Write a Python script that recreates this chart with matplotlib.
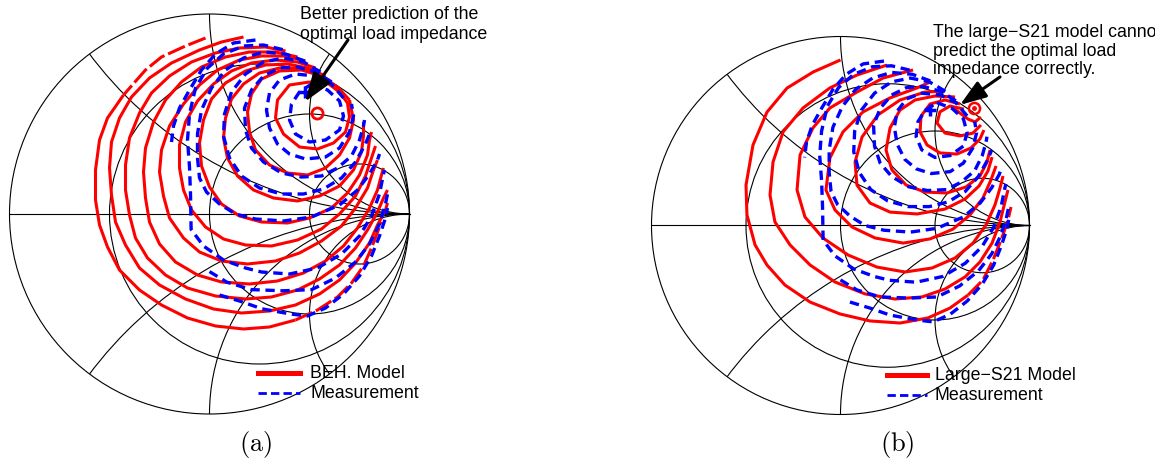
import matplotlib
matplotlib.use("Agg")
import matplotlib.pyplot as plt
from matplotlib.patches import Circle
from matplotlib.lines import Line2D

plt.rcParams['font.family'] = ['Liberation Sans', 'DejaVu Sans']
plt.rcParams['mathtext.fontset'] = 'cm'

# ---------------------------------------------------------------------------
# Load-pull output-power contours, given as reflection coefficient (Re, Im)
# ---------------------------------------------------------------------------

# BEH model contours, inner to outer
beh_model = [
    [(0.50, 0.66), (0.59, 0.655), (0.65, 0.61), (0.69, 0.555), (0.70, 0.485), (0.68, 0.41), (0.62, 0.355),
     (0.54, 0.325), (0.45, 0.335), (0.37, 0.40), (0.33, 0.48), (0.34, 0.57), (0.40, 0.645), (0.50, 0.66)],
    [(0.70, 0.57), (0.64, 0.635), (0.56, 0.69), (0.46, 0.72), (0.35, 0.715), (0.26, 0.675), (0.21, 0.60),
     (0.19, 0.51), (0.20, 0.41), (0.23, 0.32), (0.30, 0.245), (0.39, 0.205), (0.49, 0.195), (0.58, 0.23),
     (0.65, 0.295), (0.70, 0.38), (0.72, 0.47), (0.70, 0.57)],
    [(0.61, 0.66), (0.54, 0.705), (0.45, 0.73), (0.35, 0.73), (0.25, 0.705), (0.17, 0.65), (0.11, 0.575),
     (0.08, 0.48), (0.07, 0.38), (0.09, 0.28), (0.14, 0.19), (0.22, 0.12), (0.32, 0.08), (0.44, 0.065),
     (0.55, 0.09), (0.65, 0.14), (0.72, 0.22), (0.76, 0.31), (0.77, 0.39), (0.77, 0.46)],
    [(0.58, 0.69), (0.49, 0.73), (0.39, 0.75), (0.28, 0.745), (0.18, 0.715), (0.08, 0.655), (0.01, 0.575),
     (-0.03, 0.47), (-0.05, 0.355), (-0.04, 0.24), (0.0, 0.135), (0.06, 0.05), (0.15, -0.01), (0.26, -0.04),
     (0.39, -0.045), (0.50, -0.02), (0.61, 0.03), (0.69, 0.105), (0.75, 0.195), (0.79, 0.295), (0.80, 0.37),
     (0.81, 0.41)],
    [(0.53, 0.73), (0.44, 0.76), (0.33, 0.77), (0.21, 0.755), (0.11, 0.715), (0.02, 0.65), (-0.06, 0.565),
     (-0.12, 0.46), (-0.15, 0.345), (-0.15, 0.23), (-0.13, 0.12), (-0.09, 0.02), (-0.02, -0.065),
     (0.07, -0.125), (0.18, -0.155), (0.31, -0.16), (0.44, -0.13), (0.56, -0.075), (0.65, 0.0), (0.73, 0.09),
     (0.78, 0.19), (0.81, 0.28), (0.83, 0.34)],
    [(0.48, 0.765), (0.38, 0.79), (0.26, 0.79), (0.15, 0.77), (0.04, 0.72), (-0.05, 0.645), (-0.13, 0.55),
     (-0.20, 0.44), (-0.24, 0.32), (-0.25, 0.21), (-0.23, 0.09), (-0.20, -0.02), (-0.13, -0.12), (-0.05, -0.19),
     (0.06, -0.235), (0.19, -0.25), (0.33, -0.235), (0.45, -0.195), (0.56, -0.135), (0.66, -0.06), (0.73, 0.03),
     (0.79, 0.13), (0.82, 0.22), (0.84, 0.27)],
    [(0.44, 0.785), (0.33, 0.81), (0.20, 0.81), (0.08, 0.785), (-0.04, 0.735), (-0.14, 0.66), (-0.22, 0.57),
     (-0.28, 0.46), (-0.32, 0.33), (-0.33, 0.21), (-0.32, 0.08), (-0.30, -0.04), (-0.25, -0.15), (-0.17, -0.24),
     (-0.06, -0.305), (0.06, -0.34), (0.20, -0.35), (0.34, -0.335), (0.47, -0.295), (0.58, -0.235),
     (0.67, -0.16), (0.74, -0.07), (0.80, 0.03), (0.84, 0.12), (0.86, 0.195), (0.87, 0.23)],
    [(0.38, 0.815), (0.28, 0.835), (0.15, 0.83), (0.03, 0.805), (-0.09, 0.76), (-0.20, 0.69), (-0.29, 0.605),
     (-0.35, 0.505), (-0.40, 0.38), (-0.42, 0.245), (-0.42, 0.12), (-0.40, -0.005), (-0.37, -0.12),
     (-0.31, -0.22), (-0.22, -0.305), (-0.11, -0.37), (0.03, -0.41), (0.18, -0.425), (0.31, -0.415),
     (0.44, -0.38), (0.55, -0.325), (0.65, -0.255), (0.73, -0.17), (0.79, -0.08), (0.84, 0.01), (0.87, 0.08),
     (0.89, 0.12)],
    [(0.17, 0.885), (0.06, 0.86), (-0.05, 0.82), (-0.19, 0.755), (-0.30, 0.68), (-0.39, 0.585), (-0.45, 0.48),
     (-0.49, 0.36), (-0.50, 0.23), (-0.49, 0.095), (-0.47, -0.04), (-0.42, -0.155), (-0.35, -0.27),
     (-0.25, -0.355), (-0.12, -0.425), (0.02, -0.475), (0.16, -0.495), (0.30, -0.485), (0.43, -0.455),
     (0.55, -0.40), (0.65, -0.33), (0.73, -0.245), (0.80, -0.145), (0.84, -0.055), (0.88, 0.02), (0.89, 0.055)],
    [(-0.02, 0.88), (-0.12, 0.84), (-0.24, 0.785), (-0.32, 0.72), (-0.43, 0.595), (-0.51, 0.48), (-0.55, 0.37),
     (-0.57, 0.22), (-0.57, 0.07), (-0.55, -0.055), (-0.51, -0.165), (-0.45, -0.28), (-0.35, -0.38),
     (-0.24, -0.455), (-0.11, -0.52), (0.03, -0.56), (0.17, -0.575), (0.30, -0.565), (0.43, -0.53),
     (0.54, -0.48), (0.64, -0.415), (0.71, -0.345), (0.77, -0.26), (0.81, -0.17), (0.84, -0.09), (0.86, -0.04)],
]

# Large-S21 model contours, inner to outer
s21_model = [
    [(0.59, 0.627), (0.632, 0.595), (0.675, 0.563), (0.712, 0.548), (0.743, 0.574)],
    [(0.653, 0.616), (0.579, 0.632), (0.526, 0.601), (0.511, 0.542), (0.553, 0.489), (0.632, 0.474),
     (0.701, 0.489), (0.743, 0.532)],
    [(0.632, 0.643), (0.553, 0.664), (0.474, 0.643), (0.426, 0.579), (0.421, 0.495), (0.458, 0.426),
     (0.526, 0.384), (0.616, 0.378), (0.69, 0.41), (0.738, 0.458), (0.759, 0.505)],
    [(0.606, 0.680), (0.50, 0.685), (0.394, 0.664), (0.315, 0.611), (0.262, 0.516), (0.241, 0.399),
     (0.272, 0.294), (0.347, 0.214), (0.447, 0.177), (0.563, 0.172), (0.664, 0.204), (0.738, 0.262),
     (0.775, 0.336), (0.791, 0.399)],
    [(0.553, 0.712), (0.447, 0.706), (0.315, 0.664), (0.198, 0.585), (0.114, 0.468), (0.077, 0.336),
     (0.087, 0.214), (0.156, 0.119), (0.262, 0.071), (0.405, 0.061), (0.553, 0.087), (0.659, 0.14),
     (0.733, 0.209), (0.78, 0.288), (0.802, 0.362)],
    [(0.474, 0.759), (0.405, 0.728), (0.262, 0.675), (0.119, 0.601), (0.013, 0.495), (-0.056, 0.357),
     (-0.077, 0.188), (-0.029, 0.082), (0.061, -0.008), (0.183, -0.066), (0.331, -0.093), (0.474, -0.071),
     (0.595, -0.019), (0.685, 0.056), (0.754, 0.146), (0.796, 0.241), (0.823, 0.315)],
    [(0.384, 0.823), (0.225, 0.78), (0.087, 0.706), (-0.056, 0.622), (-0.146, 0.516), (-0.214, 0.373),
     (-0.23, 0.188), (-0.188, 0.045), (-0.093, -0.066), (0.04, -0.156), (0.193, -0.22), (0.341, -0.246),
     (0.484, -0.225), (0.606, -0.172), (0.701, -0.093), (0.77, 0.003), (0.817, 0.108), (0.844, 0.198),
     (0.86, 0.262)],
    [(0.246, 0.849), (0.087, 0.796), (-0.056, 0.728), (-0.198, 0.622), (-0.304, 0.495), (-0.357, 0.336),
     (-0.373, 0.161), (-0.347, 0.019), (-0.267, -0.103), (-0.161, -0.209), (-0.029, -0.299), (0.13, -0.362),
     (0.288, -0.389), (0.431, -0.378), (0.553, -0.336), (0.659, -0.272), (0.738, -0.193), (0.802, -0.093),
     (0.844, 0.019), (0.87, 0.124), (0.886, 0.188)],
    [(0.0, 0.876), (-0.145, 0.812), (-0.283, 0.727), (-0.389, 0.60), (-0.463, 0.426), (-0.50, 0.214),
     (-0.495, 0.056), (-0.452, -0.103), (-0.389, -0.209), (-0.294, -0.315), (-0.161, -0.405), (-0.003, -0.468),
     (0.156, -0.505), (0.315, -0.516), (0.463, -0.489), (0.579, -0.437), (0.675, -0.368), (0.754, -0.288),
     (0.807, -0.183), (0.854, -0.066), (0.886, 0.029), (0.902, 0.098)],
]

# Measured contours (same measurement shown in both charts); some are split
# where the measured region ends
measured = [
    [(0.51, 0.65), (0.59, 0.62), (0.65, 0.565), (0.67, 0.49), (0.65, 0.42), (0.58, 0.37), (0.50, 0.36),
     (0.43, 0.40), (0.40, 0.47), (0.41, 0.55), (0.45, 0.61), (0.51, 0.65)],
    [(0.67, 0.58), (0.61, 0.65), (0.53, 0.69), (0.43, 0.70), (0.35, 0.67), (0.30, 0.605), (0.285, 0.52),
     (0.30, 0.43), (0.34, 0.35), (0.40, 0.30), (0.48, 0.275), (0.58, 0.285), (0.65, 0.33), (0.70, 0.41),
     (0.72, 0.49), (0.71, 0.55)],
    [(0.61, 0.66), (0.53, 0.71), (0.44, 0.735), (0.35, 0.73), (0.27, 0.69), (0.21, 0.62), (0.175, 0.53),
     (0.18, 0.42), (0.21, 0.33), (0.27, 0.26), (0.36, 0.205), (0.46, 0.185), (0.56, 0.19), (0.64, 0.23),
     (0.71, 0.29), (0.75, 0.37), (0.77, 0.44), (0.775, 0.47)],
    [(0.555, 0.71), (0.47, 0.76), (0.37, 0.78), (0.27, 0.76), (0.18, 0.70), (0.11, 0.61), (0.075, 0.50),
     (0.07, 0.39), (0.10, 0.28), (0.16, 0.19), (0.25, 0.13), (0.36, 0.10), (0.47, 0.10), (0.57, 0.125),
     (0.66, 0.18), (0.73, 0.26), (0.78, 0.35), (0.80, 0.40)],
    [(0.475, 0.765), (0.38, 0.80), (0.27, 0.81), (0.17, 0.78), (0.08, 0.72), (0.01, 0.63), (-0.04, 0.52),
     (-0.06, 0.40), (-0.06, 0.28), (-0.05, 0.18), (-0.015, 0.11), (0.05, 0.05), (0.13, 0.0), (0.23, -0.025),
     (0.37, -0.035), (0.51, -0.015), (0.65, 0.045), (0.74, 0.12), (0.80, 0.20), (0.84, 0.27), (0.85, 0.30)],
    [(0.366, 0.822), (0.27, 0.845), (0.17, 0.84), (0.07, 0.80), (-0.01, 0.73), (-0.07, 0.63), (-0.10, 0.50),
     (-0.11, 0.37), (-0.10, 0.235), (-0.095, 0.10), (-0.092, -0.077), (-0.03, -0.16), (0.07, -0.23),
     (0.18, -0.27), (0.26, -0.29), (0.40, -0.30), (0.54, -0.27), (0.66, -0.20), (0.75, -0.11), (0.81, -0.01),
     (0.85, 0.10), (0.87, 0.20), (0.875, 0.22)],
    [(0.23, 0.87), (0.12, 0.855), (0.03, 0.80), (-0.04, 0.72), (-0.10, 0.62), (-0.15, 0.53), (-0.18, 0.44),
     (-0.19, 0.36)],
    [(0.0, -0.288), (0.087, -0.341), (0.209, -0.378), (0.368, -0.384), (0.511, -0.378), (0.63, -0.32),
     (0.73, -0.24), (0.80, -0.15), (0.85, -0.05), (0.88, 0.05), (0.89, 0.10)],
    [(0.05, -0.405), (0.156, -0.437), (0.262, -0.474), (0.405, -0.50), (0.49, -0.51), (0.58, -0.47),
     (0.67, -0.40), (0.75, -0.31), (0.81, -0.21), (0.85, -0.11), (0.88, -0.02), (0.89, 0.03)],
]

# Optimum load points
measured_opt = (0.476, 0.612)
beh_opt = (0.5375, 0.505)
s21_opt = (0.706, 0.623)

RED = '#ff0000'
BLUE = '#0000ff'
GRID_LW = 0.8
LIM = 1.02
FS = 12.8


def smith_grid(ax):
    rim = Circle((0, 0), 1, transform=ax.transData)
    ax.add_patch(Circle((0, 0), 1, fill=False, ec='k', lw=GRID_LW))
    ax.plot([-1, 1], [0, 0], color='k', lw=GRID_LW)
    for r in (1 / 3, 1, 3):
        ax.add_patch(Circle((r / (1 + r), 0), 1 / (1 + r), fill=False, ec='k', lw=GRID_LW))
    for x in (0.5, 1, 2):
        for s in (1, -1):
            arc = Circle((1, s / x), 1 / x, fill=False, ec='k', lw=GRID_LW)
            ax.add_patch(arc)
            arc.set_clip_path(rim)


def red_line(ax, pts, broken=False):
    u, v = zip(*pts)
    kw = dict(color=RED, lw=2.2, solid_joinstyle='round', solid_capstyle='butt', zorder=3)
    if broken:
        ax.plot(u, v, dashes=(6, 1.3), dash_capstyle='butt', **{k: kw[k] for k in ('color', 'lw', 'zorder')})
    else:
        ax.plot(u, v, **kw)


def draw_contours(ax, model, meas, head=0, tail=0):
    # the outermost model contour is drawn broken near its ends
    for c in model[:-1]:
        red_line(ax, c)
    outer = model[-1]
    n = len(outer)
    if head:
        red_line(ax, outer[:head + 1], broken=True)
    red_line(ax, outer[head:n - tail])
    if tail:
        red_line(ax, outer[n - tail - 1:], broken=True)
    for c in meas:
        u, v = zip(*c)
        ax.plot(u, v, color=BLUE, lw=2.4, dashes=(2.8, 1.7), dash_capstyle='butt', zorder=4)


W, H = 1155, 463
fig = plt.figure(figsize=(W / 100, H / 100), dpi=100)


def smith_axes(cx, cy, R):
    half = LIM * R
    ax = fig.add_axes([(cx - half) / W, (H - cy - half) / H, 2 * half / W, 2 * half / H])
    ax.set_xlim(-LIM, LIM)
    ax.set_ylim(-LIM, LIM)
    ax.axis('off')
    return ax


arrow_style = '-|>,head_length=0.8,head_width=0.28'

# ---------------- (a) BEH model ----------------
ax1 = smith_axes(209.5, 214, 200)
smith_grid(ax1)
draw_contours(ax1, beh_model, measured, head=4, tail=7)
ax1.plot(*beh_opt, marker='o', ms=8, mfc='none', mec=RED, mew=2, zorder=6)
ax1.plot(*measured_opt, marker='+', ms=9, mew=2.5, color=BLUE, zorder=6)
ax1.annotate('', xy=(0.4775, 0.5615), xytext=(0.6925, 0.87), annotation_clip=False,
             arrowprops=dict(arrowstyle=arrow_style, lw=2.2, color='k',
                             mutation_scale=22, shrinkA=0, shrinkB=0), zorder=7)
fig.text(300 / W, 1 - 6 / H, 'Better prediction of the\noptimal load impedance',
         ha='left', va='top', fontsize=FS, linespacing=1.2)

# legend (a)
fig.add_artist(Line2D([258 / W, 300 / W], [1 - 373 / H] * 2, color=RED, lw=3.6))
fig.add_artist(Line2D([258 / W, 300 / W], [1 - 393 / H] * 2, color=BLUE, lw=2, dashes=(3, 1.5)))
fig.text(310 / W, 1 - 374 / H, 'BEH. Model', ha='left', va='center', fontsize=FS)
fig.text(310 / W, 1 - 393 / H, 'Measurement', ha='left', va='center', fontsize=FS)
fig.text(256 / W, 1 - 445 / H, r'$\mathrm{(a)}$', ha='center', va='center', fontsize=19)

# ---------------- (b) Large-S21 model ----------------
ax2 = smith_axes(840.5, 225.5, 189)
smith_grid(ax2)
draw_contours(ax2, s21_model, measured, tail=5)
ax2.plot(*s21_opt, marker='o', ms=8, mfc='none', mec=RED, mew=1.8, zorder=6)
ax2.plot(*s21_opt, marker='o', ms=2.5, color=RED, zorder=6)
ax2.plot(*measured_opt, marker='+', ms=9, mew=2.5, color=BLUE, zorder=6)
ax2.annotate('', xy=(0.632, 0.638), xytext=(0.844, 0.786), annotation_clip=False,
             arrowprops=dict(arrowstyle=arrow_style, lw=2.2, color='k',
                             mutation_scale=20, shrinkA=0, shrinkB=0), zorder=7)
fig.text(933 / W, 1 - 24 / H, 'The large\u2212S21 model cannot\npredict the optimal load\nimpedance correctly.',
         ha='left', va='top', fontsize=FS, linespacing=1.12)

# legend (b)
fig.add_artist(Line2D([887 / W, 927 / W], [1 - 375 / H] * 2, color=RED, lw=3.6))
fig.add_artist(Line2D([887 / W, 927 / W], [1 - 395 / H] * 2, color=BLUE, lw=2, dashes=(3, 1.5)))
fig.text(935 / W, 1 - 376 / H, 'Large\u2212S21 Model', ha='left', va='center', fontsize=FS)
fig.text(935 / W, 1 - 395 / H, 'Measurement', ha='left', va='center', fontsize=FS)
fig.text(897 / W, 1 - 445 / H, r'$\mathrm{(b)}$', ha='center', va='center', fontsize=19)

fig.savefig('out.png', dpi=100)
